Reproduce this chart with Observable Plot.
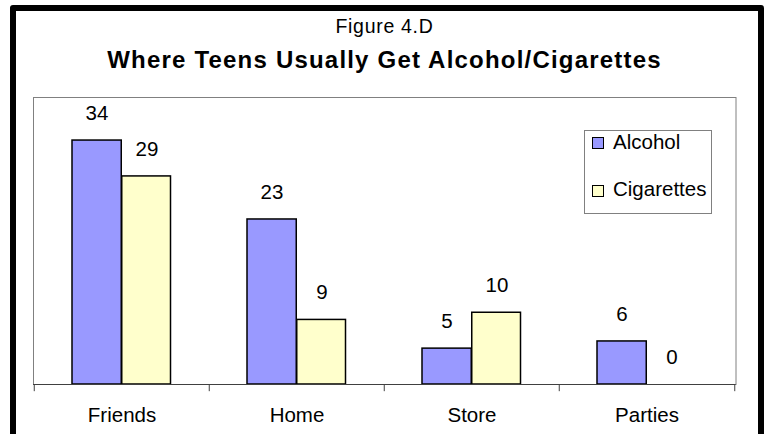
<!DOCTYPE html>
<html>
<head>
<meta charset="utf-8">
<script src="https://cdn.jsdelivr.net/npm/d3@7"></script>
<script src="https://cdn.jsdelivr.net/npm/@observablehq/plot@0.6"></script>
<style>
  html, body { margin: 0; padding: 0; background: #fff; }
  #wrap { position: relative; width: 769px; height: 434px; overflow: hidden; font-family: "Liberation Sans", Arial, sans-serif; color: #000; }
  #frame { position: absolute; left: 10px; top: 5px; width: 754px; height: 520px; box-sizing: border-box; border: 6px solid #000; border-radius: 3px; }
  #chart { position: absolute; left: 0; top: 0; }
  .t1 { position: absolute; left: 0; width: 769px; text-align: center; top: 17px; font-size: 19.5px; line-height: 19.5px; letter-spacing: 0.7px; }
  .t2 { position: absolute; left: 0; width: 769px; text-align: center; top: 48px; font-size: 24px; line-height: 24px; font-weight: bold; letter-spacing: 1.2px; }
  #legend { position: absolute; left: 584px; top: 130px; width: 128px; height: 84px; box-sizing: border-box; border: 1px solid #808080; background: #fff; }
  .sw { position: absolute; width: 12px; height: 12px; box-sizing: border-box; border: 1.5px solid #000; }
  .lt { position: absolute; font-size: 20.5px; line-height: 20.5px; white-space: nowrap; }
</style>
</head>
<body>
<div id="wrap">
  <div id="frame"></div>
  <div id="chart"></div>
  <div class="t1" id="t1"></div>
  <div class="t2" id="t2"></div>
  <div id="legend"></div>
</div>
<script>
const figureLabel = "Figure 4.D";
const title = "Where Teens Usually Get Alcohol/Cigarettes";
const categories = ["Friends", "Home", "Store", "Parties"];
const seriesNames = ["Alcohol", "Cigarettes"];
const alcohol = [34, 23, 5, 6];
const cigarettes = [29, 9, 10, 0];
const colors = ["#9999FF", "#FFFFCC"];

document.getElementById("t1").textContent = figureLabel;
document.getElementById("t2").textContent = title;

const alcRows = categories.map((c, i) => ({category: c, series: seriesNames[0], value: alcohol[i]}));
const cigRows = categories.map((c, i) => ({category: c, series: seriesNames[1], value: cigarettes[i]}));

const font = "Liberation Sans, Arial, sans-serif";

const chart = Plot.plot({
  width: 769,
  height: 434,
  marginLeft: 33,
  marginRight: 33.5,
  marginTop: 97,
  marginBottom: 50,
  style: {fontFamily: font, fontSize: "20.5px", color: "#000", background: "transparent", overflow: "visible"},
  x: {domain: categories, paddingInner: 0, paddingOuter: 0, label: null},
  y: {domain: [0, 40], axis: null},
  marks: [
    Plot.frame({stroke: "#808080", strokeWidth: 1}),
    Plot.barY(alcRows, {x: "category", y: "value", fill: colors[0], stroke: "#000", strokeWidth: 1.5, insetLeft: 38, insetRight: 87.75}),
    Plot.barY(cigRows, {x: "category", y: "value", fill: colors[1], stroke: "#000", strokeWidth: 1.5, insetLeft: 87.75, insetRight: 38.5}),
    Plot.ruleY([0], {stroke: "#404040", strokeWidth: 1}),
    Plot.ruleX(categories, {x: d => d, y1: 0, y2: -1, dx: -87.75, stroke: "#404040", strokeWidth: 1}),
    Plot.ruleX([categories[categories.length - 1]], {x: d => d, y1: 0, y2: -1, dx: 87.75, stroke: "#404040", strokeWidth: 1}),
    Plot.text(alcRows, {x: "category", y: "value", text: d => String(d.value), dx: -25, dy: -27, fontSize: 20.5, fill: "#000"}),
    Plot.text(cigRows, {x: "category", y: "value", text: d => String(d.value), dx: 25, dy: -27, fontSize: 20.5, fill: "#000"}),
    Plot.axisX({tickSize: 0, tickPadding: 23, fontSize: 20.5, label: null})
  ]
});
document.getElementById("chart").appendChild(chart);

// legend built from series arrays
const legend = document.getElementById("legend");
const rowTops = [131.5, 179];
const swTops = [137, 184.5];
seriesNames.forEach((name, i) => {
  const sw = document.createElement("div");
  sw.className = "sw";
  sw.style.left = (592 - 584 - 1) + "px";
  sw.style.top = (swTops[i] - 130 - 1) + "px";
  sw.style.background = colors[i];
  legend.appendChild(sw);
  const t = document.createElement("div");
  t.className = "lt";
  t.style.left = (613 - 584 - 1) + "px";
  t.style.top = (rowTops[i] - 130 - 1) + "px";
  t.textContent = name;
  legend.appendChild(t);
});
</script>
</body>
</html>
